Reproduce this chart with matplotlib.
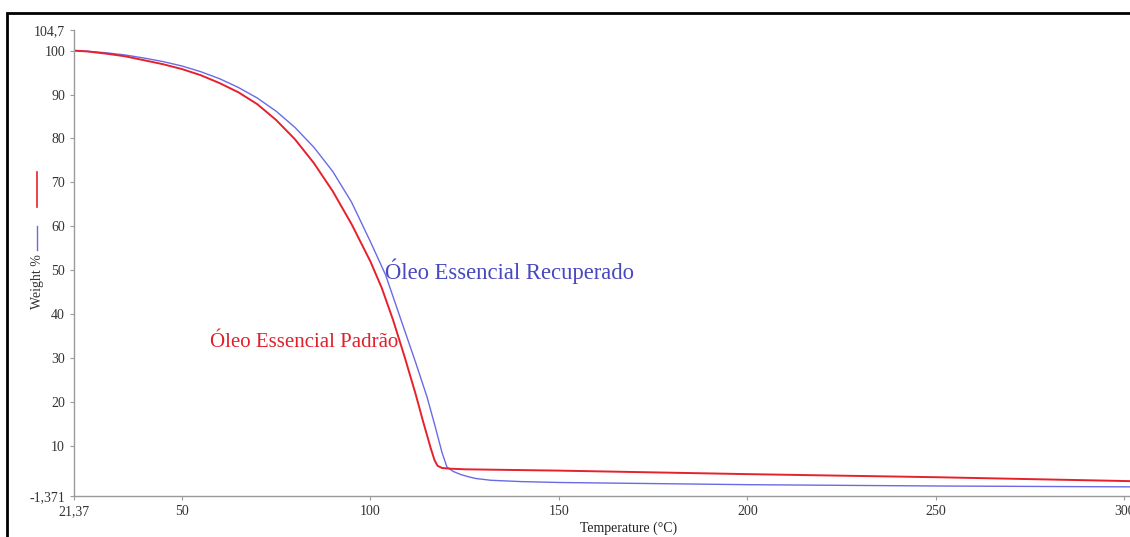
import matplotlib.pyplot as plt
from matplotlib.patches import Rectangle

plt.rcParams['font.family'] = ['Liberation Serif', 'DejaVu Serif']

# TGA curves (temperature in °C, weight in %)
temp_padrao = [21.37, 25, 30, 35, 40, 45, 50, 55, 60, 65, 70, 75, 80, 85, 90,
               95, 100, 103, 106, 109, 112, 114, 116, 117, 117.8, 119, 121,
               125, 150, 200, 250, 302]
peso_padrao = [100, 99.8, 99.3, 98.7, 97.8, 96.9, 95.8, 94.4, 92.6, 90.5, 87.8,
               84.2, 79.8, 74.4, 68, 60.5, 52, 46, 38.7, 30.5, 21.8, 15.5, 9.5,
               6.8, 5.5, 5.0, 4.85, 4.7, 4.4, 3.6, 2.9, 2.0]

temp_recup = [21.37, 25, 30, 35, 40, 45, 50, 55, 60, 65, 70, 75, 80, 85, 90,
              95, 100, 104, 108, 112, 115, 117, 119, 120.3, 122, 124, 126, 128,
              132, 140, 150, 200, 250, 302]
peso_recup = [100, 99.85, 99.5, 99, 98.3, 97.5, 96.5, 95.2, 93.6, 91.6, 89.2,
              86.2, 82.5, 78, 72.5, 65.5, 56.5, 49, 39, 29, 21.2, 15, 8.5, 5.2,
              4.2, 3.5, 3.0, 2.6, 2.2, 1.9, 1.7, 1.2, 0.9, 0.7]

xticks = [21.37, 50, 100, 150, 200, 250, 300]
xtick_labels = ['21,37', '50', '100', '150', '200', '250', '300']
yticks = [-1.371, 10, 20, 30, 40, 50, 60, 70, 80, 90, 100, 104.7]
ytick_labels = ['-1,371', '10', '20', '30', '40', '50', '60', '70', '80', '90',
                '100', '104,7']

red = '#e8202c'
blue = '#6a6ae6'

fig = plt.figure(figsize=(11.3, 5.37), dpi=100)
ax = fig.add_axes([0.0655, 0.0764, 0.9345, 0.8678])

ax.plot(temp_recup, peso_recup, color=blue, lw=1.0)
ax.plot(temp_padrao, peso_padrao, color=red, lw=1.4)

ax.set_xlim(21.37, 301.5)
ax.set_ylim(-1.371, 104.7)
ax.set_xticks(xticks, xtick_labels)
ax.set_yticks(yticks, ytick_labels)

for s in ['top', 'right']:
    ax.spines[s].set_visible(False)
for s in ['left', 'bottom']:
    ax.spines[s].set_color('#9a9a9a')
    ax.spines[s].set_linewidth(1.0)
ax.tick_params(colors='#9a9a9a', labelcolor='#333333', labelsize=10,
               length=3, width=0.8)

ax.set_xlabel('Temperature (°C)', fontsize=10, color='#222222')
ax.xaxis.set_label_coords(0.525, -0.055)

# y label with the series colour keys beside it
fig.text(0.033, 1 - 282 / 537, 'Weight %', rotation=90, fontsize=10,
         color='#333333', ha='center', va='center')
fig.add_artist(plt.Line2D([0.033, 0.033], [1 - 250 / 537, 1 - 226 / 537],
                          color=blue, lw=1.0))
fig.add_artist(plt.Line2D([0.033, 0.033], [1 - 207 / 537, 1 - 172 / 537],
                          color=red, lw=1.2))

ax.text(104.0, 49.8, 'Óleo Essencial Recuperado', color='#4848c0',
        fontsize=16.3, ha='left', va='center')
ax.text(107.5, 33.6, 'Óleo Essencial Padrão', color='#e0202c',
        fontsize=15, ha='right', va='center')

# outer frame
fig.add_artist(Rectangle((7 / 1130, -0.1), 1.1, 1 - 13 / 537 + 0.1,
                         transform=fig.transFigure, fill=False,
                         edgecolor='black', lw=2))

fig.savefig('out.png', dpi=100)
